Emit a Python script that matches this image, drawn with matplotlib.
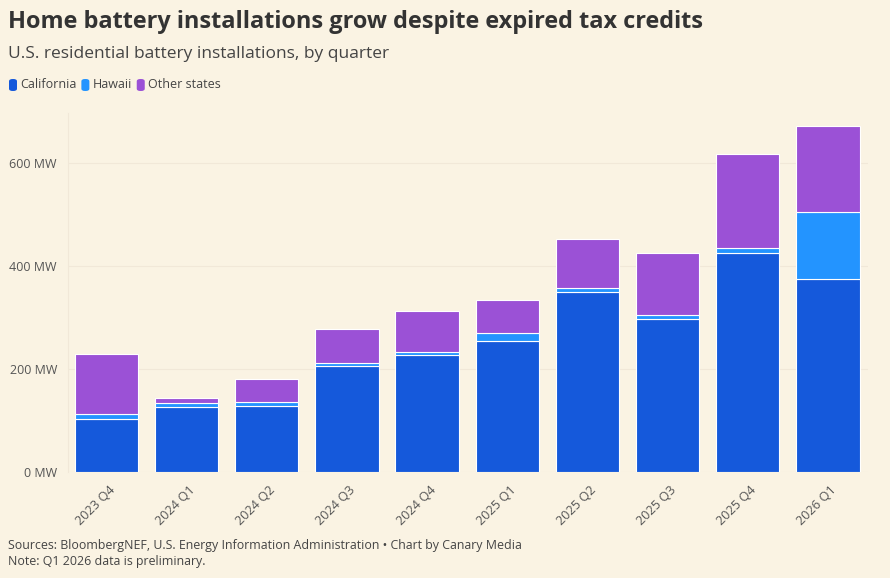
import matplotlib
matplotlib.use("Agg")
import matplotlib.pyplot as plt
from matplotlib.patches import FancyBboxPatch
import numpy as np

quarters = ["2023 Q4", "2024 Q1", "2024 Q2", "2024 Q3", "2024 Q4",
            "2025 Q1", "2025 Q2", "2025 Q3", "2025 Q4", "2026 Q1"]
california = [102, 126, 129, 205, 228, 254, 349, 298, 425, 374]
hawaii = [10, 7, 7, 7, 5, 16, 9, 7, 9, 130]
other = [118, 11, 44, 66, 80, 64, 95, 120, 183, 168]
series_names = ["California", "Hawaii", "Other states"]
colors = ["#1559DB", "#2394FF", "#9B51D6"]
yticks = [0, 200, 400, 600]

BG = "#FAF3E3"
TXT = "#333333"
plt.rcParams['font.family'] = ['Open Sans', 'DejaVu Sans']

W, H = 890, 578
fig = plt.figure(figsize=(W / 100, H / 100), dpi=100, facecolor=BG)
ax = fig.add_axes([68 / W, 1 - 472 / H, (868 - 68) / W, (472 - 113) / H])
ax.set_facecolor(BG)

x = np.arange(len(quarters))
bottom = np.zeros(len(quarters))
for vals, c in zip([california, hawaii, other], colors):
    ax.bar(x, vals, bottom=bottom, width=0.79, color=c, edgecolor="white",
           linewidth=0.8, zorder=3)
    bottom += np.array(vals)

ax.set_xlim(-0.48, 9.5)
ax.set_ylim(0, 697)
ax.set_yticks(yticks)
ax.set_yticklabels([f"{v} MW" for v in yticks], fontsize=9, color="#555555")
ax.set_xticks(x)
ax.set_xticklabels(quarters, rotation=45, ha="right", rotation_mode="anchor",
                   fontsize=9.2, color="#555555")
ax.tick_params(axis="both", length=0)
ax.tick_params(axis="y", pad=8)
ax.tick_params(axis="x", pad=8)
for lbl in ax.get_xticklabels():
    lbl.set_transform(lbl.get_transform() + matplotlib.transforms.ScaledTranslation(2 / 100, 0, fig.dpi_scale_trans))
ax.grid(axis="y", color="#F1E8D8", linewidth=0.8, zorder=0)
for s in ["top", "right", "bottom"]:
    ax.spines[s].set_visible(False)
ax.spines["left"].set_color("#F1E8D8")
ax.spines["left"].set_linewidth(0.8)

fig.text(8 / W, 1 - 22 / H, "Home battery installations grow despite expired tax credits",
         fontsize=16.9, fontweight="bold", color=TXT, va="center", ha="left")
fig.text(8 / W, 1 - 54 / H, "U.S. residential battery installations, by quarter",
         fontsize=12.5, color="#444444", va="center", ha="left")

# legend
lx = 9
for name, c in zip(series_names, colors):
    p = FancyBboxPatch((lx / W, 1 - 91 / H), 8 / W, 12 / H,
                       boxstyle="round,pad=0,rounding_size=0.004",
                       transform=fig.transFigure, facecolor=c, edgecolor="none")
    fig.patches.append(p)
    t = fig.text((lx + 11) / W, 1 - 85 / H, name, fontsize=9.0, color="#444444",
                 va="center", ha="left")
    fig.canvas.draw()
    bb = t.get_window_extent()
    lx = bb.x1 + 5

fig.text(8 / W, 1 - 545 / H,
         "Sources: BloombergNEF, U.S. Energy Information Administration \u2022 Chart by Canary Media",
         fontsize=8.95, color="#444444", va="center", ha="left")
fig.text(8 / W, 1 - 562 / H, "Note: Q1 2026 data is preliminary.",
         fontsize=8.95, color="#444444", va="center", ha="left")

fig.savefig("out.png", dpi=100, facecolor=BG)
